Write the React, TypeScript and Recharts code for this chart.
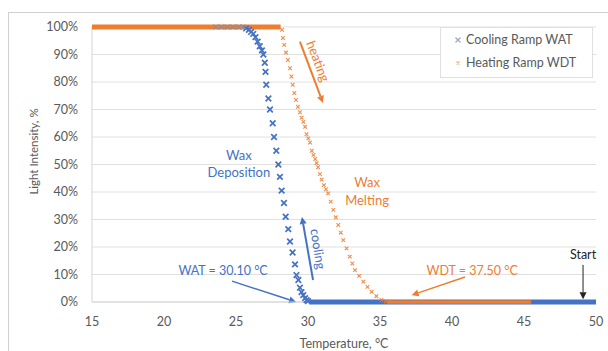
// Wax appearance / disappearance scan: light intensity against temperature.

import { ScatterChart, Scatter, XAxis, YAxis, CartesianGrid, Legend, ReferenceLine, ReferenceDot } from 'recharts';

const BLUE = '#4472C4';
const ORANGE = '#ED7D31';
const GRID = '#e0e0e0';
const INK = '#595959';
const FONT = 'Lato, "Open Sans", sans-serif';

// cooling ramp (WAT) — °C / %
const coolHighTemps = [23.6, 24.0, 24.4, 24.8, 25.2, 25.5];
const coolHighValues = [100, 100, 100, 100, 100, 100];
const coolDropTemps = [
  25.7, 25.9, 26.05, 26.2, 26.35, 26.5, 26.65, 26.8, 26.9, 27.0, 27.05, 27.1, 27.25, 27.36, 27.55, 27.64, 27.8,
  27.94, 28.05, 28.17, 28.33, 28.45, 28.63, 28.75, 28.93, 29.1, 29.2, 29.33, 29.44, 29.55, 29.67, 29.8, 29.9, 30.0,
];
const coolDropValues = [
  99.5, 99, 98.2, 97.5, 96.3, 94.7, 93, 91.5, 90, 87, 83.7, 79, 74, 70, 65, 60, 55, 50, 45.5, 40.5, 36, 31, 26.5,
  22, 18, 13.7, 9.8, 8, 5.2, 3.6, 2.5, 1.4, 0.7, 0.3,
];
const coolLowTemps = [30.1, 31, 32, 33, 34, 35, 36, 37, 38, 39, 40, 41, 42, 43, 44, 45, 46, 47, 48, 49, 50];
const coolLowValues = [0, 0, 0, 0, 0, 0, 0, 0, 0, 0, 0, 0, 0, 0, 0, 0, 0, 0, 0, 0, 0];

// heating ramp (WDT) — °C / %
const heatHighTemps = [15, 16, 17, 18, 19, 20, 21, 22, 23, 24, 25, 26, 27, 28, 28.1];
const heatHighValues = [100, 100, 100, 100, 100, 100, 100, 100, 100, 100, 100, 100, 100, 100, 100];
const heatDropTemps = [
  28.2, 28.26, 28.35, 28.47, 28.6, 28.75, 28.85, 28.94, 29.05, 29.17, 29.3, 29.44, 29.56, 29.68, 29.8, 29.9, 30.02,
  30.14, 30.26, 30.38, 30.5, 30.6, 30.7, 30.83, 30.95, 31.1, 31.25, 31.4, 31.58, 31.76, 31.93, 32.1, 32.28, 32.45,
  32.68, 32.9, 33.08, 33.26, 33.55, 33.84, 34.13, 34.42, 34.75, 35.1, 35.4,
];
const heatDropValues = [
  99, 96, 93.5, 90.7, 88, 85, 82, 79, 76, 73.5, 71, 69, 67, 65.5, 63.7, 61, 59.5, 58, 55, 53.5, 52, 50.5, 49, 46.5,
  44.5, 42.5, 41, 39.5, 36.5, 33.5, 30.8, 28, 25.2, 22.5, 19.5, 16.5, 14, 11.6, 9.5, 7.4, 5.5, 3.7, 2.1, 0.7, 0.2,
];
const heatLowTemps = [35.5, 36.5, 37.5, 38.5, 39.5, 40.5, 41.5, 42.5, 43.5, 44.5, 45.5];
const heatLowValues = [0, 0, 0, 0, 0, 0, 0, 0, 0, 0, 0];

const xTicks = [15, 20, 25, 30, 35, 40, 45, 50];
const yTicks = [0, 10, 20, 30, 40, 50, 60, 70, 80, 90, 100];

const zip = (t: number[], v: number[]) => t.map((x, i) => ({ t: x, v: v[i] }));

const cross = (s: number, color: string, w: number, op = 1) => (p: any) => (
  <path
    d={`M${p.cx - s},${p.cy - s}L${p.cx + s},${p.cy + s}M${p.cx - s},${p.cy + s}L${p.cx + s},${p.cy - s}`}
    stroke={color}
    strokeWidth={w}
    strokeOpacity={op}
    fill="none"
  />
);
const nothing = () => <g />;

const arrow = (color: string, w = 1.5) => (p: any) => {
  const { x1, y1, x2, y2 } = p;
  const a = Math.atan2(y2 - y1, x2 - x1);
  const L = 7;
  const H = 3.5;
  const bx = x2 - L * Math.cos(a);
  const by = y2 - L * Math.sin(a);
  const nx = -Math.sin(a) * H;
  const ny = Math.cos(a) * H;
  return (
    <g>
      <line x1={x1} y1={y1} x2={bx} y2={by} stroke={color} strokeWidth={w} />
      <polygon points={`${x2},${y2} ${bx + nx},${by + ny} ${bx - nx},${by - ny}`} fill={color} />
    </g>
  );
};

const note = (text: string, color: string, size = 13, angle = 0) => (p: any) => (
  <text
    x={p.cx}
    y={p.cy}
    fill={color}
    fontSize={size}
    textAnchor="middle"
    dominantBaseline="central"
    transform={angle ? `rotate(${angle} ${p.cx} ${p.cy})` : undefined}
  >
    {text}
  </text>
);

const LegendBox = () => (
  <div
    style={{
      width: 151,
      height: 49,
      border: `1px solid ${GRID}`,
      background: '#fff',
      fontFamily: FONT,
      fontSize: 12.5,
      color: INK,
      position: 'relative',
    }}
  >
    <div style={{ position: 'absolute', left: 12, top: 4, display: 'flex', alignItems: 'center', gap: 3 }}>
      <svg width={10} height={10}>
        <path d="M2.5,2.5L7.5,7.5M2.5,7.5L7.5,2.5" stroke="#9aa8c8" strokeWidth={1.2} />
      </svg>
      <span>Cooling Ramp WAT</span>
    </div>
    <div style={{ position: 'absolute', left: 12, top: 27, display: 'flex', alignItems: 'center', gap: 3 }}>
      <svg width={10} height={10}>
        <path d="M3.5,3.5L6.5,6.5M3.5,6.5L6.5,3.5" stroke="#f0b48c" strokeWidth={1.2} />
      </svg>
      <span>Heating Ramp WDT</span>
    </div>
  </div>
);

const YTitle = (p: any) => {
  const { x, y, height } = p.viewBox;
  const cx = x - 7;
  const cy = y + height / 2 - 13;
  return (
    <text x={cx} y={cy} fill={INK} fontSize={11.5} textAnchor="middle" dominantBaseline="central" transform={`rotate(-90 ${cx} ${cy})`}>
      Light Intensity, %
    </text>
  );
};

const XTitle = (p: any) => {
  const { x, y, width } = p.viewBox;
  return (
    <text x={x + width / 2} y={y + 41} fill={INK} fontSize={12.5} textAnchor="middle" dominantBaseline="central">
      Temperature, °C
    </text>
  );
};

export default function App() {
  return (
    <div style={{ position: 'fixed', left: 0, top: 0, width: 608, height: 351, overflow: 'hidden', background: '#fff', fontFamily: FONT }}>
      <div style={{ position: 'absolute', left: 8, top: 12, width: 640, height: 400, borderTop: '1px solid #d0d0d0', borderLeft: '1px solid #d0d0d0' }} />
      <ScatterChart width={608} height={351} margin={{ top: 27, right: 12, bottom: 0, left: 40 }} style={{ position: 'absolute', left: 0, top: 0 }}>
        <CartesianGrid vertical={false} stroke={GRID} />
        <XAxis
          type="number"
          dataKey="t"
          domain={[15, 50]}
          ticks={xTicks}
          height={49}
          tickLine={false}
          tickSize={0}
          tickMargin={15}
          axisLine={{ stroke: '#d4d4d4' }}
          tick={{ fill: INK, fontSize: 12.5 }}
          label={<XTitle />}
        />
        <YAxis
          type="number"
          dataKey="v"
          domain={[0, 100]}
          ticks={yTicks}
          width={52}
          tickLine={false}
          tickSize={0}
          tickMargin={14}
          axisLine={{ stroke: '#d4d4d4' }}
          tick={{ fill: INK, fontSize: 12.5 }}
          tickFormatter={(v: number) => `${v}%`}
          label={<YTitle />}
        />
        <Legend layout="vertical" align="center" verticalAlign="middle" wrapperStyle={{ left: 440, top: 27, width: 153, height: 51 }} content={() => <LegendBox />} />

        <Scatter name="coolLow" data={zip(coolLowTemps, coolLowValues)} fill={BLUE} line={{ stroke: BLUE, strokeWidth: 5 }} lineType="joint" shape={nothing} legendType="none" isAnimationActive={false} />
        <Scatter name="heatHigh" data={zip(heatHighTemps, heatHighValues)} fill={ORANGE} line={{ stroke: ORANGE, strokeWidth: 5 }} lineType="joint" shape={nothing} legendType="none" isAnimationActive={false} />
        <Scatter name="Cooling Ramp WAT" data={zip(coolDropTemps, coolDropValues)} fill={BLUE} shape={cross(2.8, BLUE, 1.7)} isAnimationActive={false} />
        <Scatter name="coolHigh" data={zip(coolHighTemps, coolHighValues)} fill={BLUE} shape={cross(2.5, '#7f8fb0', 1.5, 0.7)} legendType="none" isAnimationActive={false} />
        <Scatter name="Heating Ramp WDT" data={zip(heatDropTemps, heatDropValues)} fill={ORANGE} shape={cross(1.8, ORANGE, 1.2, 0.85)} isAnimationActive={false} />
        <Scatter name="heatLow" data={zip(heatLowTemps, heatLowValues)} fill={ORANGE} line={{ stroke: ORANGE, strokeWidth: 3.5 }} lineType="joint" shape={nothing} legendType="none" isAnimationActive={false} />

        <ReferenceLine segment={[{ x: 29.44, y: 94.7 }, { x: 31.04, y: 72.4 }]} ifOverflow="visible" shape={arrow(ORANGE, 2)} />
        <ReferenceLine segment={[{ x: 30.35, y: 8 }, { x: 29.58, y: 30.9 }]} ifOverflow="visible" shape={arrow(BLUE, 2)} />
        <ReferenceLine segment={[{ x: 24.72, y: 7.6 }, { x: 29.17, y: 0 }]} ifOverflow="visible" shape={arrow(BLUE, 1.5)} />
        <ReferenceLine segment={[{ x: 40.9, y: 9.1 }, { x: 37.2, y: 2.5 }]} ifOverflow="visible" shape={arrow(ORANGE, 1.5)} />
        <ReferenceLine segment={[{ x: 49.1, y: 13.5 }, { x: 49.1, y: 1 }]} ifOverflow="visible" shape={arrow('#222', 1)} />

        <ReferenceDot x={30.72} y={87.6} r={0} ifOverflow="visible" shape={note('heating', ORANGE, 13, 69)} />
        <ReferenceDot x={30.72} y={19.3} r={0} ifOverflow="visible" shape={note('cooling', BLUE, 13, 81)} />
        <ReferenceDot x={25.2} y={53.5} r={0} ifOverflow="visible" shape={note('Wax', BLUE)} />
        <ReferenceDot x={25.2} y={47.4} r={0} ifOverflow="visible" shape={note('Deposition', BLUE)} />
        <ReferenceDot x={34.1} y={43.7} r={0} ifOverflow="visible" shape={note('Wax', ORANGE)} />
        <ReferenceDot x={34.1} y={37.1} r={0} ifOverflow="visible" shape={note('Melting', ORANGE)} />
        <ReferenceDot x={24.1} y={11.6} r={0} ifOverflow="visible" shape={note('WAT = 30.10 °C', BLUE, 12.5)} />
        <ReferenceDot x={41.4} y={11.6} r={0} ifOverflow="visible" shape={note('WDT = 37.50 °C', ORANGE, 12.5)} />
        <ReferenceDot x={49.1} y={17.1} r={0} ifOverflow="visible" shape={note('Start', '#222', 12.5)} />
      </ScatterChart>
    </div>
  );
}
